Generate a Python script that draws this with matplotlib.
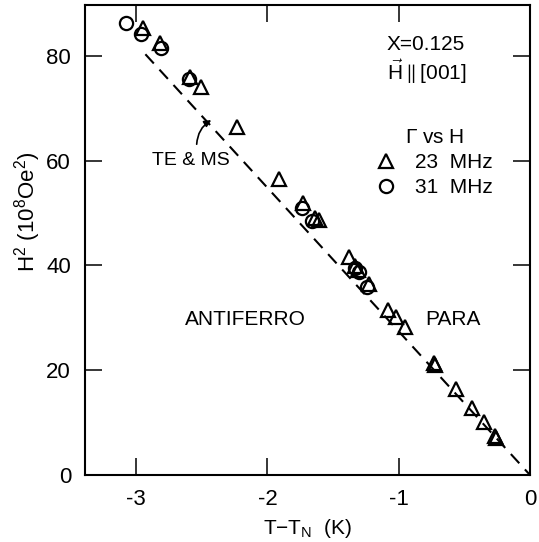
import matplotlib
matplotlib.use("Agg")
import matplotlib.pyplot as plt
from matplotlib.lines import Line2D

plt.rcParams['font.family'] = ['Liberation Sans', 'DejaVu Sans']
plt.rcParams['mathtext.fontset'] = 'custom'
plt.rcParams['mathtext.rm'] = 'Liberation Sans'
plt.rcParams['mathtext.it'] = 'Liberation Sans'

# 23 MHz (triangles)
tri_x = [-2.95, -2.82, -2.59, -2.51, -2.23, -1.91, -1.73, -1.64, -1.61, -1.38,
         -1.33, -1.31, -1.23, -1.08, -1.02, -0.95, -0.73, -0.72, -0.565, -0.44,
         -0.35, -0.27, -0.26]
tri_y = [85.4, 82.4, 76.0, 74.0, 66.4, 56.4, 52.0, 49.0, 48.7, 41.7,
         39.8, 39.2, 36.5, 31.5, 30.1, 28.3, 21.3, 21.0, 16.5, 12.7,
         10.2, 7.4, 7.0]
# 31 MHz (circles)
circ_x = [-3.08, -2.96, -2.81, -2.60, -1.74, -1.66, -1.33, -1.30, -1.24]
circ_y = [86.2, 84.2, 81.5, 75.5, 50.9, 48.4, 39.5, 38.8, 35.8]
# phase boundary (TE & MS)
fit_x = [-2.93, 0.0]
fit_y = [80.3, 0.0]

x_ticks = [-3, -2, -1, 0]
y_ticks = [0, 20, 40, 60, 80]

fig = plt.figure(figsize=(5.39, 5.42), dpi=100)
ax = fig.add_axes([85/539, 1-475/542, 445/539, 470/542])

ax.plot(fit_x, fit_y, color='black', lw=1.5, dashes=(6, 4))
ax.plot(tri_x, tri_y, linestyle='none', marker='^', ms=10.5, mfc='none',
        mec='black', mew=1.6)
ax.plot(circ_x, circ_y, linestyle='none', marker='o', ms=9.5, mfc='none',
        mec='black', mew=1.6)

ax.set_xlim(-3.39, 0.0)
ax.set_ylim(0, 89.7)
ax.set_xticks(x_ticks)
ax.set_xticklabels(['-3', '-2', '-1', '0'])
ax.set_yticks(y_ticks)
ax.tick_params(direction='in', length=12, width=1.1, top=True, right=True,
               labelsize=16, pad=10)
for s in ax.spines.values():
    s.set_linewidth(1.5)

ax.set_xlabel(r'T$-$T$_\mathregular{N}$  (K)', fontsize=15, labelpad=5)
ax.set_ylabel(r'H$^\mathregular{2}$ (10$^\mathregular{8}$Oe$^\mathregular{2}$)',
              fontsize=16, labelpad=4)
ax.yaxis.set_label_coords(-0.095, 0.56)

ax.text(0.765, 0.915, 'X=0.125', transform=ax.transAxes, fontsize=15,
        ha='center', va='center')
ax.text(0.768, 0.858, r'$\vec{\mathregular{H}}$$\mathregular{\parallel}$[001]',
        transform=ax.transAxes, fontsize=15, ha='center', va='center')

handles = [Line2D([], [], linestyle='none', marker='^', ms=10.5, mfc='none',
                  mec='black', mew=1.6),
           Line2D([], [], linestyle='none', marker='o', ms=9.5, mfc='none',
                  mec='black', mew=1.6)]
leg = ax.legend(handles, ['23  MHz', '31  MHz'], title=r'$\Gamma$ vs H',
                loc='upper right', bbox_to_anchor=(0.95, 0.77), frameon=False,
                fontsize=15, title_fontsize=15, handletextpad=0.9,
                labelspacing=0.3, handlelength=1.0, borderpad=0.2)

ax.text(0.237, 0.67, 'TE & MS', transform=ax.transAxes, fontsize=14,
        ha='center', va='center')
ax.annotate('', xy=(-2.41, 68.0), xytext=(-2.54, 62.6),
            arrowprops=dict(arrowstyle='-|>', color='black', lw=1.2,
                            connectionstyle='arc3,rad=-0.3', mutation_scale=10))

ax.text(-2.17, 29.6, 'ANTIFERRO', fontsize=15, ha='center', va='center')
ax.text(-0.586, 29.6, 'PARA', fontsize=15, ha='center', va='center')

fig.savefig('out.png', dpi=100)
